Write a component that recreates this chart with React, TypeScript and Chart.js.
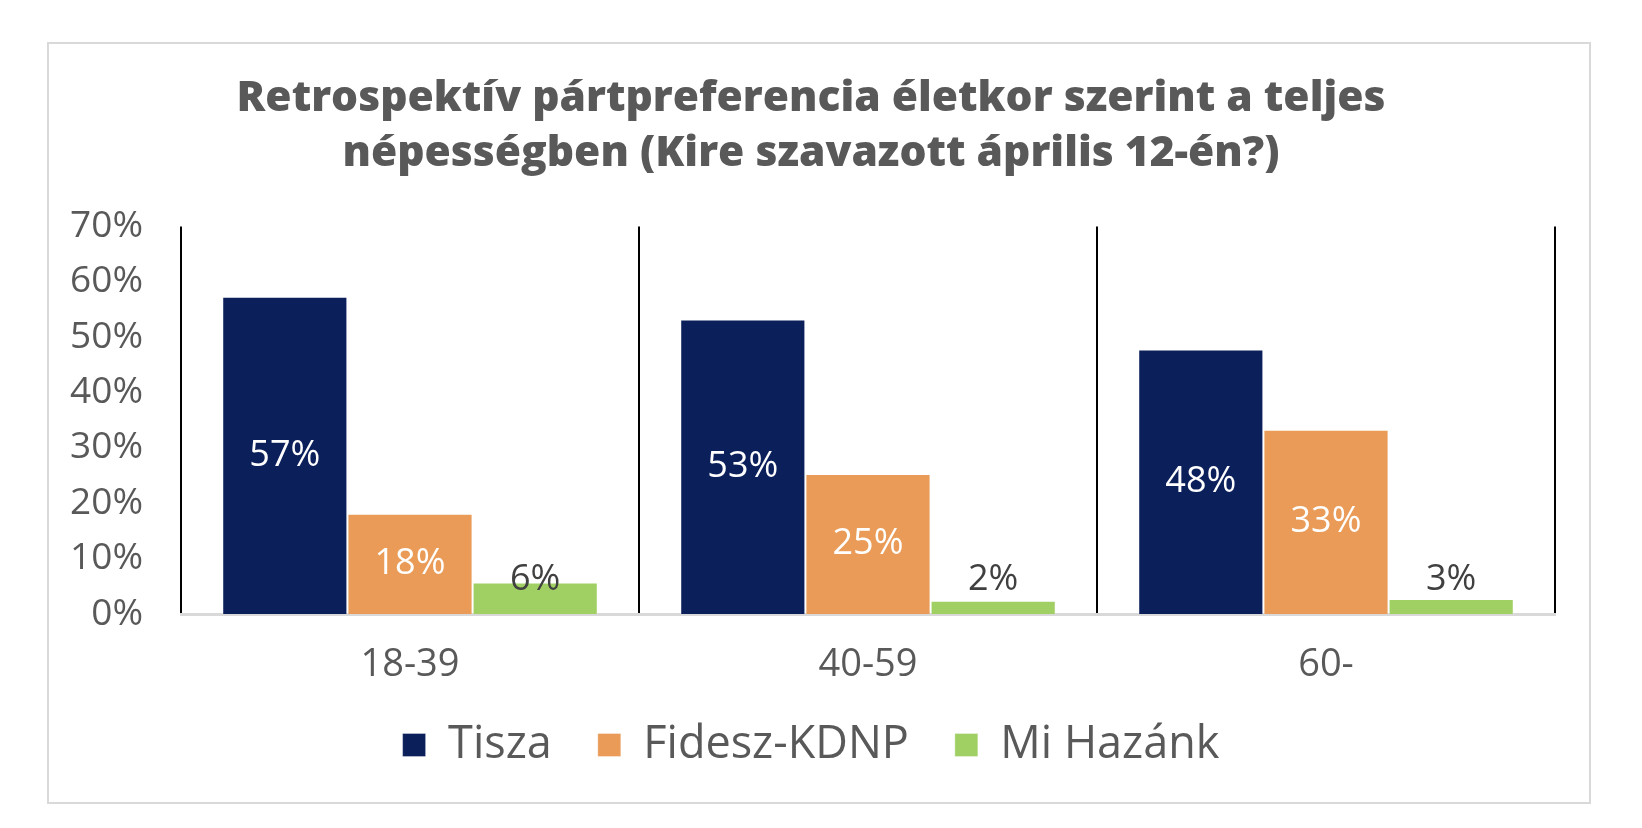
import React, { useEffect, useRef } from "react";
import { Chart, registerables } from "chart.js";

Chart.register(...registerables);

const titleLines = [
  "Retrospektív pártpreferencia életkor szerint a teljes",
  "népességben (Kire szavazott április 12-én?)",
];
const categories = ["18-39", "40-59", "60-"];
const seriesNames = ["Tisza", "Fidesz-KDNP", "Mi Hazánk"];
const tiszaValues = [57.3, 53.2, 47.8];
const fideszValues = [18.1, 25.3, 33.3];
const miHazankValues = [5.7, 2.4, 2.7];
const yMin = 0;
const yMax = 70;
const yStep = 10;

const seriesColors = ["#0b1f5b", "#e99b57", "#a0cf63"];
const FONT = "'Open Sans', 'Noto Sans', sans-serif";
const GRAY = "#595959";

const labelPlugin = {
  id: "barValueLabels",
  afterDatasetsDraw(chart: any) {
    const { ctx } = chart;
    const yScale = chart.scales.y;
    ctx.save();
    ctx.font = `36px ${FONT}`;
    ctx.textAlign = "center";
    chart.data.datasets.forEach((ds: any, di: number) => {
      const meta = chart.getDatasetMeta(di);
      meta.data.forEach((bar: any, i: number) => {
        const text = Math.round(ds.data[i]) + "%";
        if (di < 2) {
          ctx.fillStyle = "#ffffff";
          ctx.textBaseline = "middle";
          ctx.fillText(text, bar.x, (bar.y + bar.base) / 2);
        } else {
          ctx.fillStyle = "#404040";
          ctx.textBaseline = "alphabetic";
          ctx.fillText(text, bar.x, yScale.getPixelForValue(0) - 24);
        }
      });
    });
    ctx.restore();
  },
};

function BarChart() {
  const ref = useRef<HTMLCanvasElement | null>(null);
  useEffect(() => {
    if (!ref.current) return;
    const values = [tiszaValues, fideszValues, miHazankValues];
    const chart = new Chart(ref.current, {
      type: "bar",
      data: {
        labels: categories,
        datasets: seriesNames.map((name, i) => ({
          label: name,
          data: values[i],
          backgroundColor: seriesColors[i],
          borderColor: "rgba(255,255,255,0.35)",
          borderWidth: 1,
          barPercentage: 1,
          categoryPercentage: 0.82,
        })),
      },
      options: {
        animation: false,
        responsive: false,
        devicePixelRatio: 1,
        layout: { padding: { left: 18, right: 34, top: 0, bottom: 24.5 } },
        plugins: {
          title: {
            display: true,
            text: titleLines,
            color: GRAY,
            font: { family: FONT, size: 42.5, weight: "800", lineHeight: 1.3 },
            padding: { top: 27, bottom: 45 },
          },
          legend: {
            position: "bottom",
            labels: {
              color: GRAY,
              font: { family: FONT, size: 45 },
              boxWidth: 23,
              boxHeight: 23,
              padding: 46,
            },
          },
          tooltip: { enabled: false },
        },
        scales: {
          x: {
            grid: {
              display: true,
              offset: true,
              color: "#000000",
              lineWidth: 2,
              drawTicks: false,
            },
            border: { display: true, color: "#d9d9d9", width: 3 },
            ticks: {
              color: GRAY,
              font: { family: FONT, size: 38, lineHeight: 1 },
              padding: 32,
            },
            afterFit: (s: any) => {
              s.height = 62.5;
            },
          },
          y: {
            min: yMin,
            max: yMax,
            grid: { display: false, drawTicks: false },
            border: { display: false },
            ticks: {
              stepSize: yStep,
              color: GRAY,
              font: { family: FONT, size: 37 },
              padding: 38,
              callback: (v: any) => v + "%",
            },
            afterFit: (s: any) => {
              s.width = 114;
            },
          },
        },
      },
      plugins: [labelPlugin],
    });
    return () => chart.destroy();
  }, []);
  return <canvas ref={ref} width={1540} height={758} style={{ display: "block" }} />;
}

export default function App() {
  return (
    <div
      style={{
        position: "fixed",
        left: 0,
        top: 0,
        width: 1642,
        height: 828,
        background: "#ffffff",
      }}
    >
      <div
        style={{
          position: "absolute",
          left: 47,
          top: 42,
          width: 1544,
          height: 762,
          border: "2px solid #d9d9d9",
          boxSizing: "border-box",
          background: "#ffffff",
        }}
      >
        <BarChart />
      </div>
    </div>
  );
}
